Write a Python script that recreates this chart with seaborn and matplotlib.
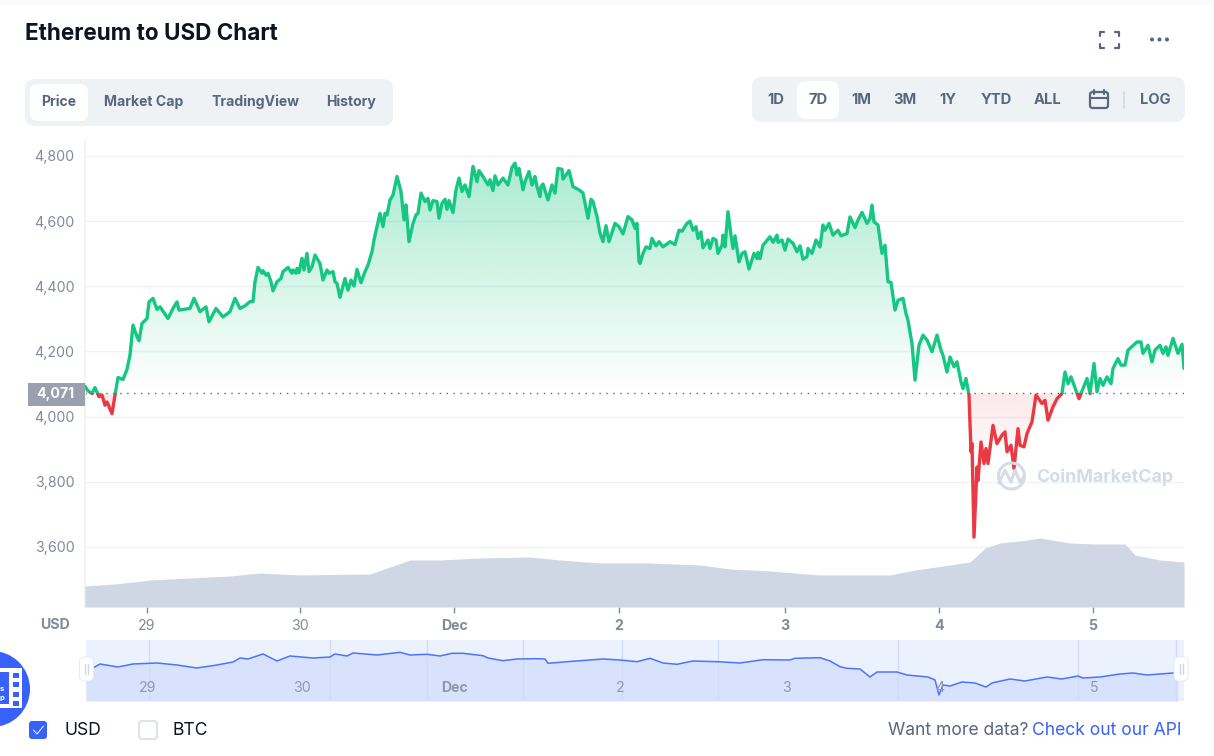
import numpy as np
import matplotlib
matplotlib.use("Agg")
import matplotlib.pyplot as plt
import seaborn as sns
from matplotlib.patches import FancyBboxPatch, Rectangle, Circle, PathPatch
from matplotlib.path import Path
from matplotlib.colors import to_rgb

# ---------- data ----------
price_t = [0,3,7,10,14,17,20,22,27,30,33,38,42,45,48,52,54,57,62,64,68,72,75,83,88,92,94,105,109,115,121,124,131,138,145,150,
 155,160,165,168,170,173,177,178,181,183,186,188,192,196,198,203,207,208,211,212,214,217,219,222,224,227,230,235,238,242,244,248,250,252,255,260,263,266,269,272,276,280,283,287,289,
 295,298,300,302,305,308,312,316,319,321,324,328,331,333,336,340,343,345,348,352,354,357,360,362,364,368,371,374,377,380,384,388,392,394,398,403,405,408,410,413,418,423,427,430,432,434,438,440,444,447,450,452,455,456,458,463,467,470,473,477,478,484,488,495,498,503,506,508,512,515,518,521,524,530,534,538,543,547,550,552,554,
 555,558,561,565,567,571,574,578,585,590,594,597,602,605,608,611,613,616,618,623,625,628,631,633,637,638,640,643,646,648,650,654,657,660,664,669,672,673,675,678,685,688,692,693,697,700,703,708,712,715,718,722,723,727,731,735,738,740,744,748,753,756,762,765,770,773,777,782,785,787,789,793,797,800,803,806,810,813,818,821,
 823,827,830,834,838,842,847,852,856,858,862,865,869,872,876,878,881,884,886,887,889,892,893,896,899,901,903,908,912,917,920,922,926,929,933,935,939,942,947,951,957,960,963,968,972,977,980,983,986,992,994,998,1002,1005,1009,1012,1015,1018,1022,1026,1028,1033,1036,1040,1043,1052,1056,1058,1063,1067,1070,1075,1078,1081,1083,1088,1093,1097,1099]
price_usd = [4093,4079,4071,4089,4061,4066,4035,4045,4009,4066,4120,4114,4145,4189,4281,4245,4233,4286,4301,4352,4363,4329,4337,4301,4332,4352,4327,4332,4363,4322,4337,4291,4332,4306,4322,4363,
 4332,4340,4353,4353,4414,4458,4440,4448,4434,4440,4414,4386,4414,4424,4445,4458,4440,4450,4440,4455,4442,4486,4450,4501,4445,4460,4496,4470,4419,4450,4440,4445,4414,4409,4366,4424,4388,4419,4401,4452,4411,4445,4465,4506,4542,
 4624,4583,4624,4619,4665,4680,4737,4691,4604,4650,4537,4593,4619,4624,4686,4660,4670,4634,4663,4660,4609,4655,4667,4636,4663,4626,4696,4732,4691,4711,4675,4768,4721,4755,4737,4711,4727,4694,4739,4711,4732,4711,4765,4778,4742,4762,4696,4721,4752,4711,4737,4706,4675,4706,4714,4665,4711,4686,4762,4759,4729,4755,4706,4694,4686,4609,4667,4660,4614,4563,4537,4586,4537,4593,4583,4561,4614,4604,4578,4593,4476,
 4470,4501,4521,4516,4547,4524,4537,4521,4537,4528,4572,4569,4593,4600,4572,4583,4547,4567,4518,4542,4516,4547,4542,4501,4526,4557,4521,4629,4557,4516,4555,4475,4501,4506,4453,4501,4485,4504,4485,4526,4552,4535,4557,4535,4542,4511,4545,4532,4506,4524,4483,4491,4516,4501,4542,4521,4588,4572,4593,4557,4572,4555,4562,4613,4580,4603,4627,4593,4608,4649,4598,4588,4501,4526,4414,4412,4327,4357,4363,4316,
 4296,4224,4112,4219,4250,4235,4199,4250,4204,4188,4137,4183,4153,4168,4107,4086,4117,4066,3892,3917,3630,3845,3804,3922,3856,3902,3856,3973,3917,3943,3953,3892,3912,3840,3963,3912,3907,3948,3984,4066,4040,4050,3989,4030,4055,4071,4137,4101,4122,4071,4055,4086,4117,4071,4163,4076,4117,4096,4122,4101,4148,4178,4158,4158,4204,4229,4229,4194,4219,4168,4204,4219,4194,4214,4188,4240,4194,4222,4148]

volume_t = [0,30,65,105,145,175,215,250,285,305,325,355,395,445,475,515,565,615,645,685,735,805,830,865,885,895,900,915,935,955,985,1010,1040,1050,1075,1099]
volume_bn = [10.5,11.5,13.5,14.5,15.5,17,16,16.3,16.5,20,23.5,23.5,24.5,25,23.5,22,22,21,19,18,16,16,18.5,21,22.5,27,29.5,32,33,34.5,32,31.5,31.5,26,23.5,22.5]

mini_t = [1,8,15,33,48,72,92,112,132,148,155,163,178,192,205,228,245,250,262,268,292,315,325,342,355,367,378,398,403,418,432,452,460,463,482,518,535,552,565,578,592,608,632,655,678,705,710,735,745,755,762,775,785,792,812,822,843,850,854,858,865,877,890,901,907,925,940,962,977,993,998,1015,1035,1048,1062,1088,1093]
mini_h = [31,33,37,34,37,38,36,33,36,39,43,42,47,40,45,43,44,47,45,48,46,48.7,46,46.7,45,47.7,47.7,45.3,43,40.3,42,42.3,42,37.7,39.3,42,41,39.3,42.7,38,36.7,40,39.3,38,41.3,41,42.7,43.3,40,34.3,32.7,32,24,29,29,26,24,21,6,16,15,19,18,14,18,22,20,24,22,25,23,24,27,28,26,28,28]

y_ticks = [3600, 3800, 4000, 4200, 4400, 4600, 4800]
y_labels = ["3,600", "3,800", "4,000", "4,200", "4,400", "4,600", "4,800"]
x_tick_pos = [61.5, 215, 369, 534, 700, 854, 1008]
x_tick_labels = ["29", "30", "Dec", "2", "3", "4", "5"]
mini_grid = [64, 245, 342, 438, 537, 633, 813, 993, 1091]
mini_label_pos = [63, 217, 370, 535, 701, 855, 1009]
tabs = [("Price", 59), ("Market Cap", 144), ("TradingView", 255), ("History", 351)]
ranges = [("1D", 776), ("7D", 818), ("1M", 861), ("3M", 905), ("1Y", 948), ("YTD", 996), ("ALL", 1048), ("LOG", 1155)]
baseline = 4071

# ---------- theme ----------
sns.set_theme(style="white")
plt.rcParams["font.family"] = ["Inter", "DejaVu Sans"]
GREEN, RED, GRAY, DARK, BLUE = "#16c784", "#ea3943", "#808a9d", "#58667e", "#3861fb"
W, H = 1214, 756
fig = plt.figure(figsize=(W / 100, H / 100), dpi=100, facecolor="white")

def box(l, t, r, b):
    return [l / W, 1 - b / H, (r - l) / W, (b - t) / H]

# ---------- main price axes ----------
ax = fig.add_axes(box(85, 140, 1184, 607), zorder=1)
XLIM = (0, 1099)
YLIM = (3415.6, 4849)
t = np.array(price_t, float)
p = np.array(price_usd, float)

def gradient(color, a_top, a_bottom):
    g = np.zeros((256, 2, 4))
    g[..., :3] = to_rgb(color)
    g[..., 3] = np.linspace(a_bottom, a_top, 256)[:, None]
    return g

up = np.maximum(p, baseline)
dn = np.minimum(p, baseline)
im1 = ax.imshow(gradient(GREEN, 0.36, 0.0), extent=[0, 1099, baseline, 4775], origin="lower", aspect="auto", zorder=1)
im1.set_clip_path(PathPatch(Path(np.r_[[[0, baseline]], np.c_[t, up], [[1099, baseline]]]), transform=ax.transData))
im2 = ax.imshow(gradient(RED, 0.11, 0.0), extent=[0, 1099, 3800, baseline], origin="lower", aspect="auto", zorder=1)
im2.set_clip_path(PathPatch(Path(np.r_[[[0, baseline]], np.c_[t, dn], [[1099, baseline]]]), transform=ax.transData))

sns.lineplot(x=t, y=p, ax=ax, color=GREEN, lw=2.4, estimator=None, sort=False, zorder=3)
sns.lineplot(x=t, y=p, ax=ax, color=RED, lw=2.4, estimator=None, sort=False, zorder=3)
l_g, l_r = ax.get_lines()[-2:]
l_g.set_clip_path(Rectangle((0, baseline), 1099, 900, transform=ax.transData))
l_r.set_clip_path(Rectangle((0, 3000), 1099, baseline - 3000, transform=ax.transData))
ax.axhline(baseline, color="#58667e", lw=1, ls=(0, (1, 4)), zorder=2)

ax.set_xlim(*XLIM)
ax.set_ylim(*YLIM)
ax.set_yticks(y_ticks, y_labels)
ax.set_xticks(x_tick_pos, x_tick_labels)
ax.grid(axis="y", color="#eff2f5", lw=1)
ax.set_axisbelow(True)
ax.tick_params(axis="y", length=0, pad=7.5, labelsize=10.2, labelcolor=GRAY)
ax.tick_params(axis="x", length=4, width=1, color=GRAY, pad=5, labelsize=10.2, labelcolor=GRAY, bottom=True)
for lab in ax.get_xticklabels():
    if lab.get_text() in ("Dec", "2", "3", "4", "5"):
        lab.set_fontweight("bold")
for s in ("top", "right", "bottom"):
    ax.spines[s].set_visible(False)
ax.spines["left"].set_color("#eff2f5")
ax.set_xlabel("")
ax.set_ylabel("")

# ---------- volume ----------
vax = fig.add_axes(box(85, 140, 1184, 607), zorder=2)
vax.patch.set_alpha(0)
vax.fill_between(volume_t, 0, volume_bn, color="#cfd6e4", lw=0)
vax.set_xlim(*XLIM)
vax.set_ylim(0, 233.5)
vax.axis("off")

# ---------- mini navigator ----------
mx = fig.add_axes(box(86, 640, 1184, 701), zorder=2)
mx.set_facecolor("#ecf1fe")
mx.fill_between(mini_t, 0, mini_h, color="#d9e2fc", lw=0)
for g in mini_grid:
    mx.axvline(g, color="#d2dcf5", lw=1)
sns.lineplot(x=mini_t, y=mini_h, ax=mx, color="#4a74fb", lw=1.1, estimator=None, sort=False)
for pos, lab in zip(mini_label_pos, x_tick_labels):
    mx.text(pos, 12.5, lab, color="#8e97ab", fontsize=10.2, ha="center", va="center",
            fontweight="bold" if lab in ("Dec",) else "normal")
mx.set_xlim(1, 1099)
mx.set_ylim(0, 61)
mx.set_xticks([])
mx.set_yticks([])
mx.set_xlabel("")
mx.set_ylabel("")
for s in mx.spines.values():
    s.set_visible(False)

# ---------- page chrome in pixel coordinates ----------
ui = fig.add_axes([0, 0, 1, 1], zorder=5)
ui.set_xlim(0, W)
ui.set_ylim(H, 0)
ui.axis("off")
ui.patch.set_alpha(0)

def pill(l, t_, r, b, fc, rad=9, ec="none", lw=0, z=1):
    ui.add_patch(FancyBboxPatch((l + rad, t_ + rad), r - l - 2 * rad, b - t_ - 2 * rad,
                                boxstyle=f"round,pad={rad},rounding_size={rad}", fc=fc, ec=ec, lw=lw, zorder=z))

ui.add_patch(Rectangle((0, 0), W, 5, fc="#fafafa", ec="none"))
ui.text(25, 34.5, "Ethereum to USD Chart", fontsize=16.2, fontweight="bold", color="#0d1421", va="center")

pill(25, 79, 393, 126, "#eff2f5", 10)
pill(30, 84, 88, 121, "white", 8, z=2)
for lab, cx in tabs:
    ui.text(cx, 102, lab, fontsize=10.1, fontweight="bold", color=DARK, ha="center", va="center", zorder=3)

pill(752, 77, 1185, 122, "#eff2f5", 10)
pill(797, 81, 839, 119, "white", 9, z=2)
for lab, cx in ranges:
    ui.text(cx, 100, lab, fontsize=10.6, fontweight="bold", color=DARK, ha="center", va="center", zorder=3)

# calendar icon
pill(1090, 92, 1108, 108, "none", 2.5, ec=DARK, lw=1.6, z=3)
ui.plot([1090, 1108], [97.5, 97.5], color=DARK, lw=1.5, zorder=3)
ui.plot([1094, 1094], [90, 94], color=DARK, lw=1.6, zorder=3)
ui.plot([1104, 1104], [90, 94], color=DARK, lw=1.6, zorder=3)
ui.plot([1124, 1124], [92, 108], color="#cfd6e4", lw=1.2, zorder=3)

# expand icon and dots
for (x0, y0, dx, dy) in [(1100, 32, 1, 1), (1118.5, 32, -1, 1), (1100, 47.5, 1, -1), (1118.5, 47.5, -1, -1)]:
    ui.plot([x0 + 4 * dx, x0, x0], [y0, y0, y0 + 3.5 * dy], color=DARK, lw=1.6, solid_joinstyle="round")
for cx in (1152, 1159.5, 1167):
    ui.add_patch(Circle((cx, 39.5), 2, fc=DARK, ec="none"))

# current-price tag
ui.add_patch(Rectangle((28, 383), 57, 23, fc="#9aa0ae", ec="none"))
ui.text(55, 394, "4,071", color="white", fontsize=10.2, fontweight="bold", ha="center", va="center")
ui.text(55, 625, "USD", color=GRAY, fontsize=10.2, fontweight="bold", ha="center", va="center")

# watermark
ui.add_patch(Circle((1011.5, 476), 13, fc="none", ec="#d5dbe7", lw=2.2))
ui.plot([999, 1005, 1011, 1015, 1020, 1024], [483, 470, 482, 470, 482, 476], color="#d5dbe7", lw=2.2)
ui.text(1036, 477, "CoinMarketCap", color="#d5dbe7", fontsize=12.9, fontweight="bold", va="center")

# navigator handles
for cx in (86.5, 1181):
    pill(cx - 7, 657, cx + 7, 681, "white", 5, ec="#e4e8f0", lw=0.6, z=3)
    ui.plot([cx - 1.5, cx - 1.5], [664, 674], color="#cfd6e4", lw=1, zorder=4)
    ui.plot([cx + 1.5, cx + 1.5], [664, 674], color="#cfd6e4", lw=1, zorder=4)

# floating video button
ui.add_patch(Circle((-8, 689), 38, fc=BLUE, ec="none"))
ui.add_patch(Rectangle((0, 668), 22, 40, fc="white", ec="none"))
ui.add_patch(Rectangle((0, 672), 9, 32, fc=BLUE, ec="none"))
for yy in (673, 682, 692, 701):
    ui.add_patch(Rectangle((12.5, yy), 6.5, 4.5, fc=BLUE, ec="none"))
ui.text(2, 689, "s", color="white", fontsize=5.5, fontweight="bold", ha="center", va="center")
ui.text(2, 698, "p", color="white", fontsize=5.5, fontweight="bold", ha="center", va="center")

# checkboxes and footer
pill(29, 721, 47, 739, BLUE, 3)
ui.plot([33.5, 37, 43.5], [730, 734, 726], color="white", lw=0.7, zorder=3)
pill(139, 721, 157, 739, "white", 3, ec="#cfd6e4", lw=1)
ui.text(64, 730.5, "USD", fontsize=12.6, color="#0d1421", va="center")
ui.text(173, 730.5, "BTC", fontsize=12.6, color="#0d1421", va="center")
ui.text(1181, 730.5, "Check out our API", fontsize=12.6, color=BLUE, va="center", ha="right")
ui.text(1028, 730.5, "Want more data?", fontsize=12.6, color=DARK, va="center", ha="right")

fig.savefig("out.png", dpi=100, facecolor="white")
